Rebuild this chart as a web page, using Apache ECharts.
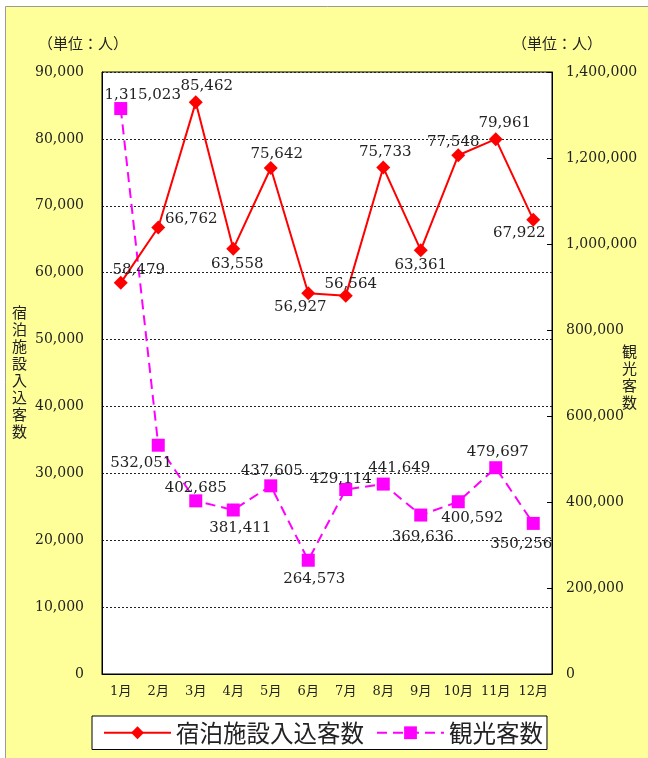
<!DOCTYPE html>
<html>
<head>
<meta charset="utf-8">
<script src="https://cdn.jsdelivr.net/npm/echarts@6/dist/echarts.min.js"></script>
<style>
  html, body { margin: 0; padding: 0; background: #ffffff; }
  #chart { width: 648px; height: 758px; }
</style>
</head>
<body>
<div id="chart"></div>
<script>
// Monthly figures (people)
const months = ['1月', '2月', '3月', '4月', '5月', '6月', '7月', '8月', '9月', '10月', '11月', '12月'];
const lodgingGuests = [58479, 66762, 85462, 63558, 75642, 56927, 56564, 75733, 63361, 77548, 79961, 67922];
const tourists = [1315023, 532051, 402685, 381411, 437605, 264573, 429114, 441649, 369636, 400592, 479697, 350256];

const leftTicks = { min: 0, max: 90000, step: 10000 };
const rightTicks = { min: 0, max: 1400000, step: 200000 };

// Where each value label sits relative to its marker [dx, dy]
const lodgingLabelShift = [[18, -13], [33, -8], [11, -16], [4, 15], [6, -14], [-8, 14], [5, -12], [2, -15], [0, 15], [-5, -13], [9, -16], [-14, 13]];
const touristLabelShift = [[22, -13], [-17, 18], [0, -13], [7, 18], [1, -15], [6, 19], [-5, -10], [16, -16], [2, 22], [14, 16], [2, -16], [-12, 21]];

const SERIF = '"DejaVu Serif", "Noto Sans CJK JP", serif';
const CJK = '"Noto Sans CJK JP", "DejaVu Serif", sans-serif';
const TEXT = '#222';

const fmt = v => v.toLocaleString('en-US');

function withLabels(values, shifts) {
  return values.map((v, i) => ({
    value: v,
    label: { offset: shifts[i] }
  }));
}

const chart = echarts.init(document.getElementById('chart'), null, { renderer: 'canvas' });

chart.setOption({
  animation: false,
  backgroundColor: '#ffffff',
  textStyle: { fontFamily: SERIF },
  graphic: [
    {
      type: 'rect', z: -10, silent: true,
      shape: { x: 5.5, y: 6.5, width: 700, height: 800 },
      style: { fill: '#FFFF99', stroke: '#9a9a9a', lineWidth: 1 }
    },
    {
      type: 'text', left: 38, top: 36,
      style: { text: '（単位：人）', font: '15px ' + CJK, fill: TEXT }
    },
    {
      type: 'text', left: 512, top: 36,
      style: { text: '（単位：人）', font: '15px ' + CJK, fill: TEXT }
    },
    {
      type: 'text', left: 12, top: 304,
      style: { text: '宿泊施設入込客数'.split('').join('\n'), font: '15px ' + CJK, lineHeight: 17, fill: TEXT }
    },
    {
      type: 'text', left: 622, top: 343,
      style: { text: '観光客数'.split('').join('\n'), font: '15px ' + CJK, lineHeight: 17, fill: TEXT }
    }
  ],
  grid: {
    left: 102, right: 96, top: 72, bottom: 84,
    show: true, backgroundColor: '#ffffff', borderColor: '#000', borderWidth: 1
  },
  legend: {
    left: 92, top: 716,
    itemWidth: 67, itemHeight: 16, itemGap: 12,
    padding: [5, 4, 5, 11],
    borderColor: '#000', borderWidth: 1, backgroundColor: '#ffffff',
    textStyle: { fontFamily: CJK, fontSize: 23.5, color: TEXT },
    data: ['宿泊施設入込客数', '観光客数']
  },
  xAxis: {
    type: 'category',
    data: months,
    boundaryGap: true,
    axisLine: { show: true, lineStyle: { color: '#000' } },
    axisTick: { show: false },
    axisLabel: { color: TEXT, fontSize: 13, fontFamily: SERIF, margin: 11, interval: 0 }
  },
  yAxis: [
    {
      type: 'value',
      min: leftTicks.min, max: leftTicks.max, interval: leftTicks.step,
      axisLine: { show: true, lineStyle: { color: '#000' } },
      axisTick: { show: false },
      axisLabel: { color: TEXT, fontSize: 14, fontFamily: SERIF, margin: 18, formatter: fmt },
      splitLine: { show: true, lineStyle: { color: '#222', type: [2, 2], width: 1 } }
    },
    {
      type: 'value',
      min: rightTicks.min, max: rightTicks.max, interval: rightTicks.step,
      position: 'right',
      axisLine: { show: true, lineStyle: { color: '#000' } },
      axisTick: { show: true, inside: true, length: 5, lineStyle: { color: '#000' } },
      axisLabel: { color: TEXT, fontSize: 14, fontFamily: SERIF, margin: 14, formatter: fmt },
      splitLine: { show: false }
    }
  ],
  series: [
    {
      name: '宿泊施設入込客数',
      type: 'line',
      yAxisIndex: 0,
      data: withLabels(lodgingGuests, lodgingLabelShift),
      symbol: 'diamond',
      symbolSize: 14,
      itemStyle: { color: '#ff0000' },
      lineStyle: { color: '#ff0000', width: 2 },
      label: {
        show: true, position: 'inside', formatter: p => fmt(p.value),
        color: TEXT, fontSize: 15, fontFamily: SERIF
      },
      z: 3
    },
    {
      name: '観光客数',
      type: 'line',
      yAxisIndex: 1,
      data: withLabels(tourists, touristLabelShift),
      symbol: 'rect',
      symbolSize: 13,
      itemStyle: { color: '#ff00ff' },
      lineStyle: { color: '#ff00ff', width: 2, type: [10, 6] },
      label: {
        show: true, position: 'inside', formatter: p => fmt(p.value),
        color: TEXT, fontSize: 15, fontFamily: SERIF
      },
      z: 2
    }
  ]
});
</script>
</body>
</html>
